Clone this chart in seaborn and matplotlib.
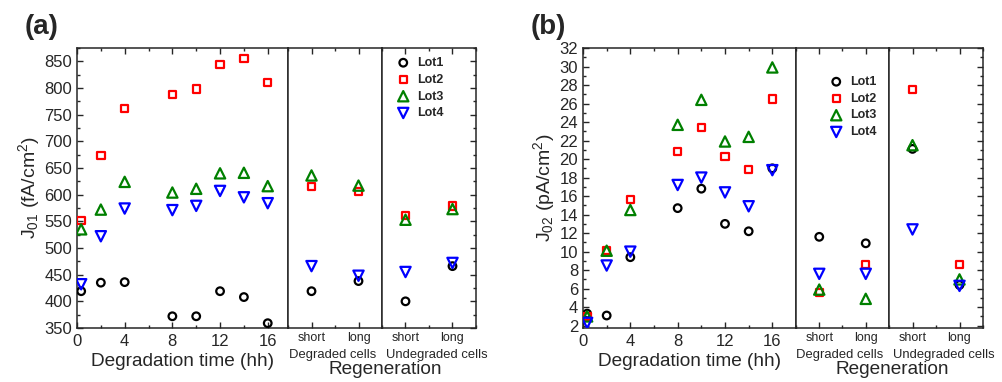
import pandas as pd
import seaborn as sns
import matplotlib.pyplot as plt
from matplotlib.ticker import MultipleLocator

sns.set_style("ticks")
plt.rcParams["font.family"] = ["Liberation Sans", "DejaVu Sans"]
plt.rcParams["mathtext.fontset"] = "custom"
plt.rcParams["mathtext.rm"] = "Liberation Sans"
plt.rcParams["mathtext.default"] = "regular"

lots = ["Lot1", "Lot2", "Lot3", "Lot4"]
lot_colors = ["black", "red", "green", "blue"]
lot_markers = ["o", "s", "^", "v"]
lot_sizes = [30, 28, 55, 55]

deg_time = [0.35, 2, 4, 8, 10, 12, 14, 16]
regen_len = ["short", "long"]
regen_groups = ["Degraded cells", "Undegraded cells"]

# (a) J01 in fA/cm2, degradation series
j01_lot1 = [419, 435, 436, 372, 372, 419, 408, 359]
j01_lot2 = [551, 674, 761, 788, 798, 844, 855, 810]
j01_lot3 = [535, 572, 624, 604, 611, 640, 641, 616]
j01_lot4 = [432, 522, 574, 571, 579, 607, 595, 584]
# regeneration: degraded short, degraded long, undegraded short, undegraded long
j01_lot1_regen = [419, 438, 400, 466]
j01_lot2_regen = [615, 606, 561, 579]
j01_lot3_regen = [636, 617, 553, 573]
j01_lot4_regen = [466, 448, 455, 472]

# (b) J02 in pA/cm2
j02_lot1 = [3.3, 3.1, 9.4, 14.7, 16.8, 13.0, 12.2, 19.0]
j02_lot2 = [3.0, 10.1, 15.6, 20.8, 23.4, 20.3, 18.9, 26.5]
j02_lot3 = [3.0, 10.1, 14.5, 23.7, 26.4, 21.9, 22.4, 29.9]
j02_lot4 = [2.3, 8.5, 10.0, 17.2, 18.0, 16.4, 14.9, 18.8]
j02_lot1_regen = [11.6, 10.9, 21.1, 6.4]
j02_lot2_regen = [5.6, 8.6, 27.5, 8.6]
j02_lot3_regen = [5.9, 4.9, 21.5, 7.0]
j02_lot4_regen = [7.6, 7.6, 12.4, 6.3]


def make_frame(deg_series, regen_series):
    rows = []
    for lot, deg, reg in zip(lots, deg_series, regen_series):
        for t, v in zip(deg_time, deg):
            rows.append({"lot": lot, "section": "time", "x": t, "J": v})
        k = 0
        for grp in regen_groups:
            for i, ln in enumerate(regen_len):
                rows.append({"lot": lot, "section": grp, "x": i, "J": reg[k]})
                k += 1
    return pd.DataFrame(rows)


df_a = make_frame([j01_lot1, j01_lot2, j01_lot3, j01_lot4],
                  [j01_lot1_regen, j01_lot2_regen, j01_lot3_regen, j01_lot4_regen])
df_b = make_frame([j02_lot1, j02_lot2, j02_lot3, j02_lot4],
                  [j02_lot1_regen, j02_lot2_regen, j02_lot3_regen, j02_lot4_regen])

fig = plt.figure(figsize=(10.03, 3.82), dpi=100)
W, H = 1003.0, 382.0


def px_axes(x0, x1, y0=48, y1=328):
    return fig.add_axes([x0 / W, 1 - y1 / H, (x1 - x0) / W, (y1 - y0) / H])


def draw_points(ax, data):
    for lot, col, mk, sz in zip(lots, lot_colors, lot_markers, lot_sizes):
        sub = data[data["lot"] == lot]
        sns.scatterplot(data=sub, x="x", y="J", ax=ax, marker=mk, s=sz,
                        facecolor="none", edgecolor=col, linewidth=1.6,
                        label=lot, legend=False, zorder=3)


def draw_panel(data, xs, ylim, ymaj, ymin, ylabel, letter, xlim1, legend_idx, legend_pos):
    axes = [px_axes(xs[0], xs[1]), px_axes(xs[1], xs[2]), px_axes(xs[2], xs[3])]
    sections = ["time"] + regen_groups
    for i, (ax, sec) in enumerate(zip(axes, sections)):
        draw_points(ax, data[data["section"] == sec])
        ax.set_ylim(*ylim)
        ax.yaxis.set_major_locator(MultipleLocator(ymaj))
        ax.yaxis.set_minor_locator(MultipleLocator(ymin))
        for sp in ax.spines.values():
            sp.set_linewidth(1.1)
        ax.tick_params(which="both", direction="in", top=True, width=1.0,
                       labelsize=12, left=(i == 0), labelleft=(i == 0), right=(i == 2))
        ax.tick_params(which="major", length=4)
        ax.tick_params(which="minor", length=2.5)
        if i == 0:
            ax.set_xlim(0, xlim1)
            ax.xaxis.set_major_locator(MultipleLocator(4))
            ax.xaxis.set_minor_locator(MultipleLocator(2))
            ax.set_xlabel("Degradation time (hh)", fontsize=13.7, labelpad=3)
            ax.set_ylabel(ylabel, fontsize=14, labelpad=2)
            ax.tick_params(axis="x", pad=4)
        else:
            ax.set_xlim(-0.5, 1.5)
            ax.set_xticks(range(len(regen_len)))
            ax.set_xticklabels(regen_len, fontsize=9)
            ax.xaxis.set_minor_locator(MultipleLocator(0.5))
            ax.set_xlabel(sec, fontsize=9.4, labelpad=0)
            ax.set_ylabel("")
            ax.tick_params(axis="x", pad=3)
            if i == 2:
                ax.xaxis.set_label_coords(0.58, -0.075)
            else:
                ax.xaxis.set_label_coords(0.47, -0.075)
    handles, labels = axes[0].get_legend_handles_labels()
    lx, ly = legend_pos
    axes[legend_idx].legend(handles, labels, loc="upper left",
                            bbox_to_anchor=(lx / W, 1 - ly / H),
                            bbox_transform=fig.transFigure, frameon=False,
                            prop={"weight": "bold", "size": 9}, handlelength=1.0,
                            handletextpad=0.6, labelspacing=0.38, borderpad=0,
                            borderaxespad=0)
    fig.text((xs[0] - 52) / W, 1 - 27 / H, letter, fontsize=20, fontweight="bold",
             va="center", ha="left")
    fig.text((xs[1] + xs[3]) / 2 / W + 3 / W, 1 - 369 / H, "Regeneration", fontsize=13.7,
             ha="center", va="center")


draw_panel(df_a, [77, 288, 382, 476], (350, 875), 50, 25,
           r"J$_{01}$ (fA/cm$^{2}$)", "(a)", 17.7, 2, (397, 57))
draw_panel(df_b, [583, 796, 889, 983], (1.75, 32.0), 2, 1,
           r"J$_{02}$ (pA/cm$^{2}$)", "(b)", 18.0, 1, (830, 76))

fig.savefig("out.png", dpi=100)
